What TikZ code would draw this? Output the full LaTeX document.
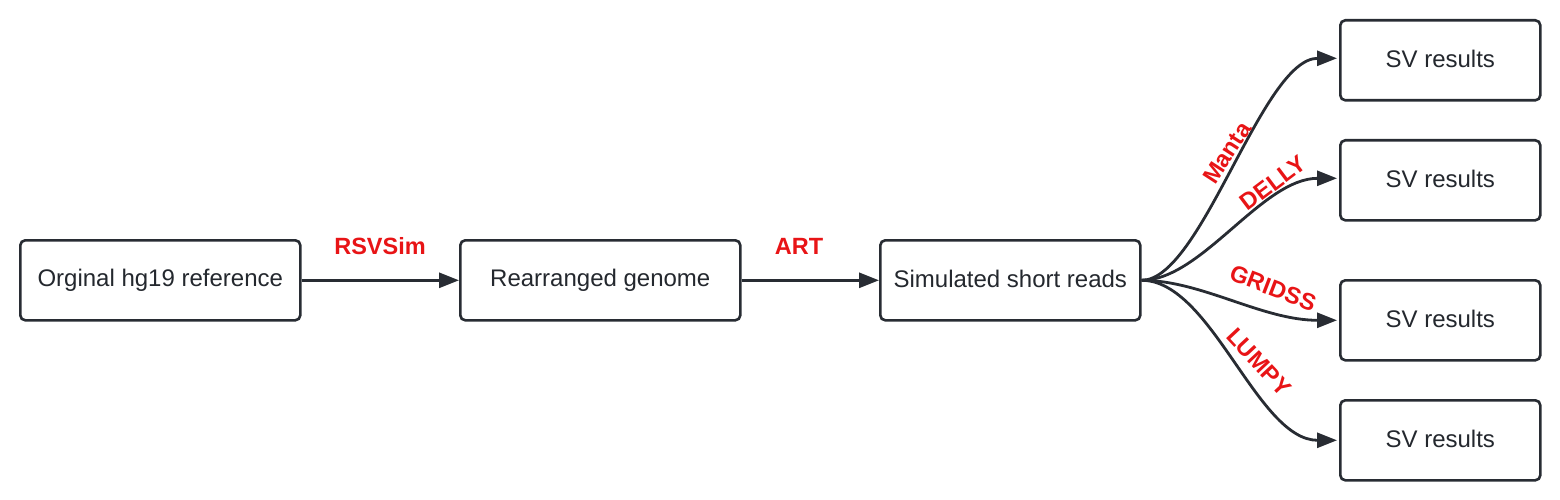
\documentclass[tikz,border=0pt]{standalone}
\usepackage{fontspec}
\setmainfont{Liberation Sans}
\usetikzlibrary{arrows.meta}
\definecolor{linec}{RGB}{40,44,51}
\definecolor{labred}{RGB}{232,20,22}
\tikzset{
  box/.style={draw=linec, line width=2.6pt, rounded corners=5pt, fill=white, text=linec!90!black, font=\fontsize{24}{28}\selectfont, anchor=north west, inner sep=0pt},
  conn/.style={draw=linec, line width=2.8pt, -{Triangle[length=20pt,width=15pt]}},
  lab/.style={text=labred, font=\bfseries\fontsize{23.5}{28}\selectfont, inner sep=0pt}
}
\begin{document}
\begin{tikzpicture}[x=1pt,y=-1pt]
\useasboundingbox (0,0) rectangle (1560,500);
\node[box, minimum width=280pt, minimum height=80pt] (a) at (19,239) {\raisebox{3.5pt}{Orginal hg19 reference}};
\node[box, minimum width=280pt, minimum height=80pt] (b) at (459,239) {\raisebox{3.5pt}{Rearranged genome}};
\node[box, minimum width=260pt, minimum height=80pt] (c) at (879,239) {\raisebox{3.5pt}{Simulated short reads}};
\node[box, minimum width=200pt, minimum height=80pt] (s1) at (1339,19) {\raisebox{3.5pt}{SV results}};
\node[box, minimum width=200pt, minimum height=80pt] (s2) at (1339,139) {\raisebox{3.5pt}{SV results}};
\node[box, minimum width=200pt, minimum height=80pt] (s3) at (1339,279) {\raisebox{3.5pt}{SV results}};
\node[box, minimum width=200pt, minimum height=80pt] (s4) at (1339,399) {\raisebox{3.5pt}{SV results}};
\coordinate (co) at (c.east);
\draw[conn] (a.east) -- (a.east -| b.west);
\draw[conn] (b.east) -- (b.east -| c.west);
\draw[conn] (co) .. controls +(60,0) and +(-75,0) .. ([xshift=-2pt,yshift=2pt]s1.west);
\draw[conn] (co) .. controls +(60,0) and +(-75,0) .. ([xshift=-2pt,yshift=2pt]s2.west);
\draw[conn] (co) .. controls +(60,0) and +(-75,0) .. ([xshift=-2pt]s3.west);
\draw[conn] (co) .. controls +(70,0) and +(-80,0) .. ([xshift=-2pt]s4.west);
\node[lab] (l1) at (380,246) {RSVSim};
\node[lab] (l2) at (799,246) {ART};
\node[lab, rotate=57] (l3) at (1227,153) {Manta};
\node[lab, rotate=37] (l4) at (1273,183) {DELLY};
\node[lab, rotate=-21] (l5) at (1273,288) {GRIDSS};
\node[lab, rotate=-47] (l6) at (1259,362) {LUMPY};
\end{tikzpicture}
\end{document}
